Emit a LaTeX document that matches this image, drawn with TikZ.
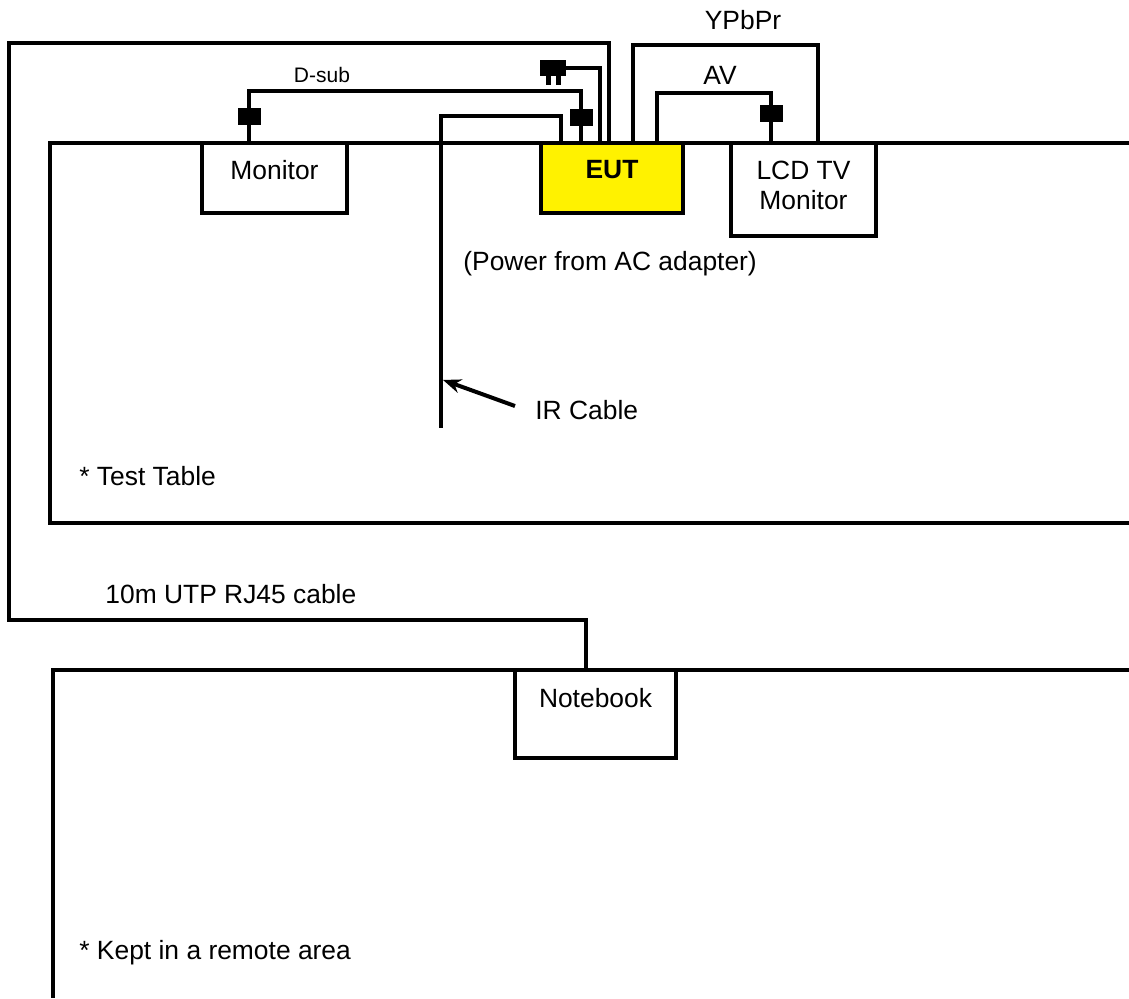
\documentclass[tikz,border=0pt]{standalone}
\usepackage{fontspec}
\setmainfont{Liberation Sans}
\usetikzlibrary{arrows.meta, calc}

\begin{document}
\begin{tikzpicture}[
    x=0.5pt, y=-0.5pt,
    font=\fontsize{13.2}{15}\selectfont,
    box/.style     ={draw, line width=2pt, fill=white, inner sep=0pt},
    eutbox/.style  ={box, fill=yellow},
    jack/.style    ={fill=black, minimum width=11.5pt, minimum height=8.5pt,
                     inner sep=0pt},
    plugbody/.style={fill=black, minimum width=13pt, minimum height=8pt,
                     inner sep=0pt},
    desk/.style    ={line width=2pt},
    cable/.style   ={line width=2pt},
    lbl/.style     ={inner sep=0pt},
    pointer/.style ={-{Stealth[length=9pt, width=7pt]}, line width=2pt}
]
\useasboundingbox (0,0) rectangle (1129,998);

% =================== Tables ===================
\draw[desk] (1129,143) -- (50,143) -- (50,523) -- (1129,523);
\draw[desk] (1129,670) -- (53,670) -- (53,998);

% =================== Devices on the test table ===================
\node[box, minimum width=72.5pt, minimum height=35pt,
      label={[yshift=4pt]center:Monitor}] (monitor) at (274.5,178) {};
\node[eutbox, minimum width=71pt, minimum height=35pt,
      label={[yshift=4pt]center:\textbf{EUT}}] (eut) at (612,178) {};
\node[box, minimum width=72.5pt, minimum height=46.5pt,
      label={[yshift=2.25pt, align=center]center:LCD TV\\Monitor}] (lcd) at (803.5,189.5) {};

% =================== Remote area ===================
\node[box, minimum width=80.5pt, minimum height=44pt,
      label={[yshift=8pt]center:Notebook}] (notebook) at (595.5,714) {};

% AC adapter plug
\node[plugbody] (plug) at ($(eut.north west)+(14,-73)$) {};
\fill ($(plug.south)+(-7,0)$) rectangle ++(5,9);
\fill ($(plug.south)+(3,0)$) rectangle ++(5,9);

% --- Cables ---

% D-sub: monitor <-> EUT
\draw[cable] ($(monitor.north west)+(49,0)$) -- ++(0,-50) node[jack, pos=0.5] {}
    -| ($(eut.north west)+(42,0)$) node[jack, pos=0.765] {};

% IR cable, free end on the table
\draw[cable] ($(eut.north west)+(22,0)$) |- ($(eut.north west)+(-98,-25)$)
    -- ++(0,312) coordinate[pos=0.846] (irtip) coordinate (irend);

% Power from AC adapter
\draw[cable] ($(eut.north west)+(61,0)$) |- (plug.east);

% RJ45 to notebook
\draw[cable] ($(eut.north west)+(70,0)$) -- ++(0,-98) -| ++(-600,577)
    -| ($(notebook.north west)+(73,0)$);

% YPbPr and AV to LCD TV
\draw[cable] ($(eut.north west)+(94,0)$) -- ++(0,-96) -| ($(lcd.north west)+(89,0)$);
\draw[cable] ($(eut.north west)+(118,0)$) -- ++(0,-48)
    -| ($(lcd.north west)+(42,0)$) node[jack, pos=0.71] {};

% --- Labels ---
\node[lbl] (ypbpr) at (743,20) {YPbPr};
\node[lbl] (av) at (720,75) {AV};
\node[lbl, font=\fontsize{10.5}{12}\selectfont] (dsub) at (322,75) {D-sub};
\node[lbl, anchor=west] (power) at (463,264) {(Power from AC adapter)};
\node[lbl, anchor=west] (irlabel) at (535,410) {IR Cable};
\node[lbl, anchor=west] (testtable) at (79,476) {* Test Table};
\node[lbl, anchor=west] (rjlabel) at (105,594) {10m UTP RJ45 cable};
\node[lbl, anchor=west] (remote) at (79,953) {* Kept in a remote area};

\draw[pointer] ($(irlabel.west)+(-20,-4)$) -- ($(irtip)+(2,0)$);

\end{tikzpicture}
\end{document}
